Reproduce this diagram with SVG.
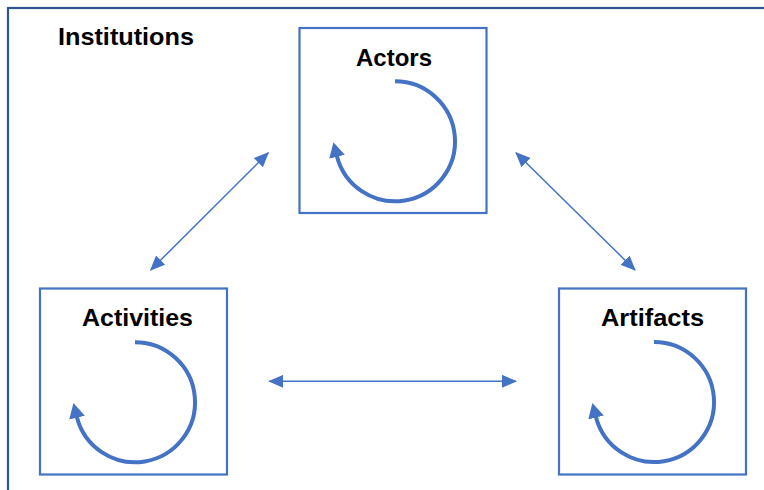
<svg xmlns="http://www.w3.org/2000/svg" width="764" height="490" viewBox="0 0 764 490">
<style>
.frame{fill:none;stroke:#2f5597;stroke-width:2.2}
.box{fill:#ffffff;stroke:#4472c4;stroke-width:2.2}
.lbl{font-family:"Liberation Sans",Arial,sans-serif;font-weight:bold;font-size:24px;fill:#000000}
.cyc{fill:none;stroke:#4472c4;stroke-width:4;marker-end:url(#cycHead)}
.conn{fill:none;stroke:#4472c4;stroke-width:1.5;marker-start:url(#connHead);marker-end:url(#connHead)}
</style>
<defs>
<marker id="cycHead" markerUnits="userSpaceOnUse" viewBox="0 0 15 16" markerWidth="15" markerHeight="16" refX="1" refY="8" orient="auto">
<path d="M0,0 L15,8 L0,16 z" fill="#4472c4"/>
</marker>
<marker id="connHead" markerUnits="userSpaceOnUse" viewBox="0 0 15 13" markerWidth="15" markerHeight="13" refX="14" refY="6.5" orient="auto-start-reverse">
<path d="M0,0 L15,6.5 L0,13 z" fill="#4472c4"/>
</marker>
</defs>
<rect width="764" height="490" fill="#ffffff"/>
<g id="institutions">
<rect class="frame" x="8" y="8" width="800" height="520"/>
<text class="lbl" x="58" y="44.5" textLength="136" lengthAdjust="spacingAndGlyphs">Institutions</text>
</g>
<g id="actors">
<rect class="box" x="299.5" y="28" width="187" height="185"/>
<text class="lbl" x="394" y="66" text-anchor="middle">Actors</text>
<path class="cyc" d="M395,81.3 A60,60 0 1 1 336.8,155.8"/>
</g>
<g id="activities">
<rect class="box" x="40" y="288.5" width="187" height="186"/>
<text class="lbl" x="137.5" y="326" text-anchor="middle" textLength="111" lengthAdjust="spacingAndGlyphs">Activities</text>
<path class="cyc" d="M135,342.2 A60,60 0 1 1 76.8,416.7"/>
</g>
<g id="artifacts">
<rect class="box" x="559" y="288.5" width="187" height="186"/>
<text class="lbl" x="652.5" y="326" text-anchor="middle" textLength="103" lengthAdjust="spacingAndGlyphs">Artifacts</text>
<path class="cyc" d="M654,342 A60,60 0 1 1 595.8,416.5"/>
</g>
<g id="connectors">
<line class="conn" x1="150.7" y1="270" x2="268.3" y2="152.7"/>
<line class="conn" x1="516" y1="152.7" x2="635" y2="270"/>
<line class="conn" x1="269.3" y1="381.3" x2="516" y2="381.3"/>
</g>
</svg>
